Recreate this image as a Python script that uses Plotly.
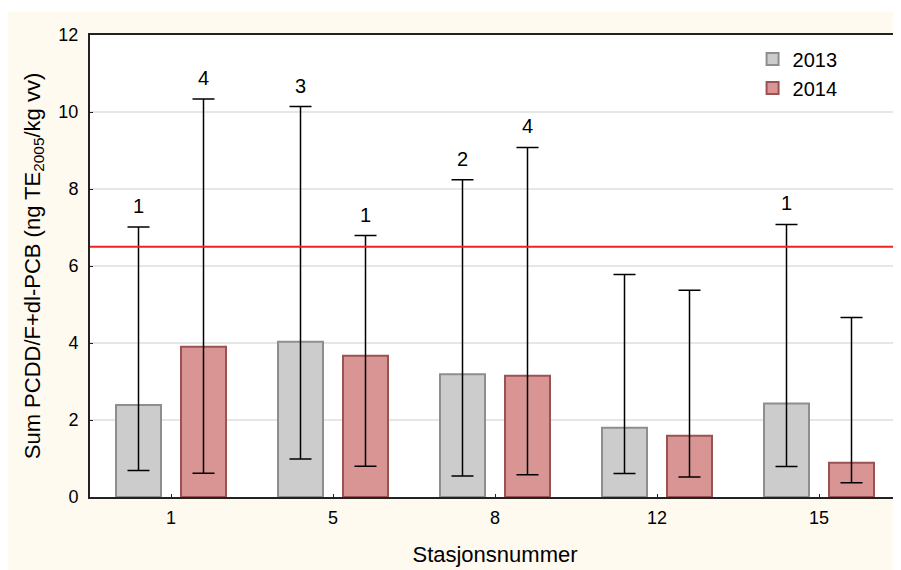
import plotly.graph_objects as go

stations = ["1", "5", "8", "12", "15"]
mean_2013 = [2.39, 4.03, 3.19, 1.80, 2.43]
low_2013 = [0.69, 0.99, 0.545, 0.61, 0.79]
high_2013 = [7.01, 10.14, 8.24, 5.78, 7.08]
n_2013 = ["1", "3", "2", "", "1"]

mean_2014 = [3.90, 3.67, 3.15, 1.59, 0.89]
low_2014 = [0.62, 0.80, 0.58, 0.52, 0.37]
high_2014 = [10.34, 6.79, 9.08, 5.37, 4.66]
n_2014 = ["4", "1", "4", "", ""]

limit = 6.5
y_ticks = [0, 2, 4, 6, 8, 10, 12]

FONT = "Liberation Sans, Arial, sans-serif"
CREAM = "#FFFAF0"

fig = go.Figure()


def add_series(name, means, lows, highs, fill, edge):
    fig.add_trace(go.Bar(
        name=name, x=stations, y=means,
        marker=dict(color=fill, line=dict(color=edge, width=2)),
        error_y=dict(type="data", symmetric=False,
                     array=[h - m for h, m in zip(highs, means)],
                     arrayminus=[m - l for m, l in zip(means, lows)],
                     color="black", thickness=1.5, width=11),
    ))


add_series("2013", mean_2013, low_2013, high_2013, "#CCCCCC", "#8E8E8E")
add_series("2014", mean_2014, low_2014, high_2014, "#D99594", "#9A5252")

annotations = []
for labels, highs, shift in ((n_2013, high_2013, -32.5), (n_2014, high_2014, 32.5)):
    for i, (lab, h) in enumerate(zip(labels, highs)):
        if lab:
            annotations.append(dict(x=i, xref="x", y=h, yref="y", text=lab, showarrow=False,
                                    xshift=shift, yshift=8, yanchor="bottom",
                                    font=dict(size=20, color="black", family=FONT)))

shapes = [
    dict(type="line", xref="paper", yref="y", x0=0, x1=1, y0=limit, y1=limit,
         line=dict(color="#EE2222", width=2), layer="above"),
    # thin white strip above the cream page area
    dict(type="rect", xref="paper", yref="paper", x0=-0.2, x1=1.1,
         y0=1 + 23 / 462, y1=1.2, fillcolor="white", line=dict(width=0), layer="below"),
]

fig.update_layout(
    width=893, height=562,
    margin=dict(l=82, r=1, t=27, b=73, autoexpand=False),
    paper_bgcolor=CREAM, plot_bgcolor="white",
    font=dict(family=FONT, size=18, color="black"),
    barmode="group", bargap=0.1975, bargroupgap=0.308,
    showlegend=True,
    legend=dict(x=0.818, y=0.99, xanchor="left", yanchor="top",
                bgcolor="rgba(0,0,0,0)", font=dict(size=20), traceorder="normal"),
    annotations=annotations,
    shapes=shapes,
)

fig.update_xaxes(
    type="category", range=[-0.5, 4.5], automargin=False,
    showline=True, linecolor="#222222", linewidth=2, mirror=True,
    ticks="inside", ticklen=3, tickcolor="#222222", showgrid=False,
    ticklabelstandoff=3, tickfont=dict(size=18),
    title=dict(text="Stasjonsnummer", font=dict(size=22), standoff=20),
)
fig.update_yaxes(
    range=[0, 12], tickvals=y_ticks, automargin=False,
    showline=True, linecolor="#222222", linewidth=2,
    ticks="inside", ticklen=3, tickcolor="#222222", showgrid=True,
    gridcolor="#E6E6E6", gridwidth=1.5, zeroline=False,
    ticklabelstandoff=6, tickfont=dict(size=18),
    title=dict(text="Sum PCDD/F+dl-PCB (ng TE<sub>2005</sub>/kg vv)", font=dict(size=22), standoff=12),
)

fig.write_html("out.html")
